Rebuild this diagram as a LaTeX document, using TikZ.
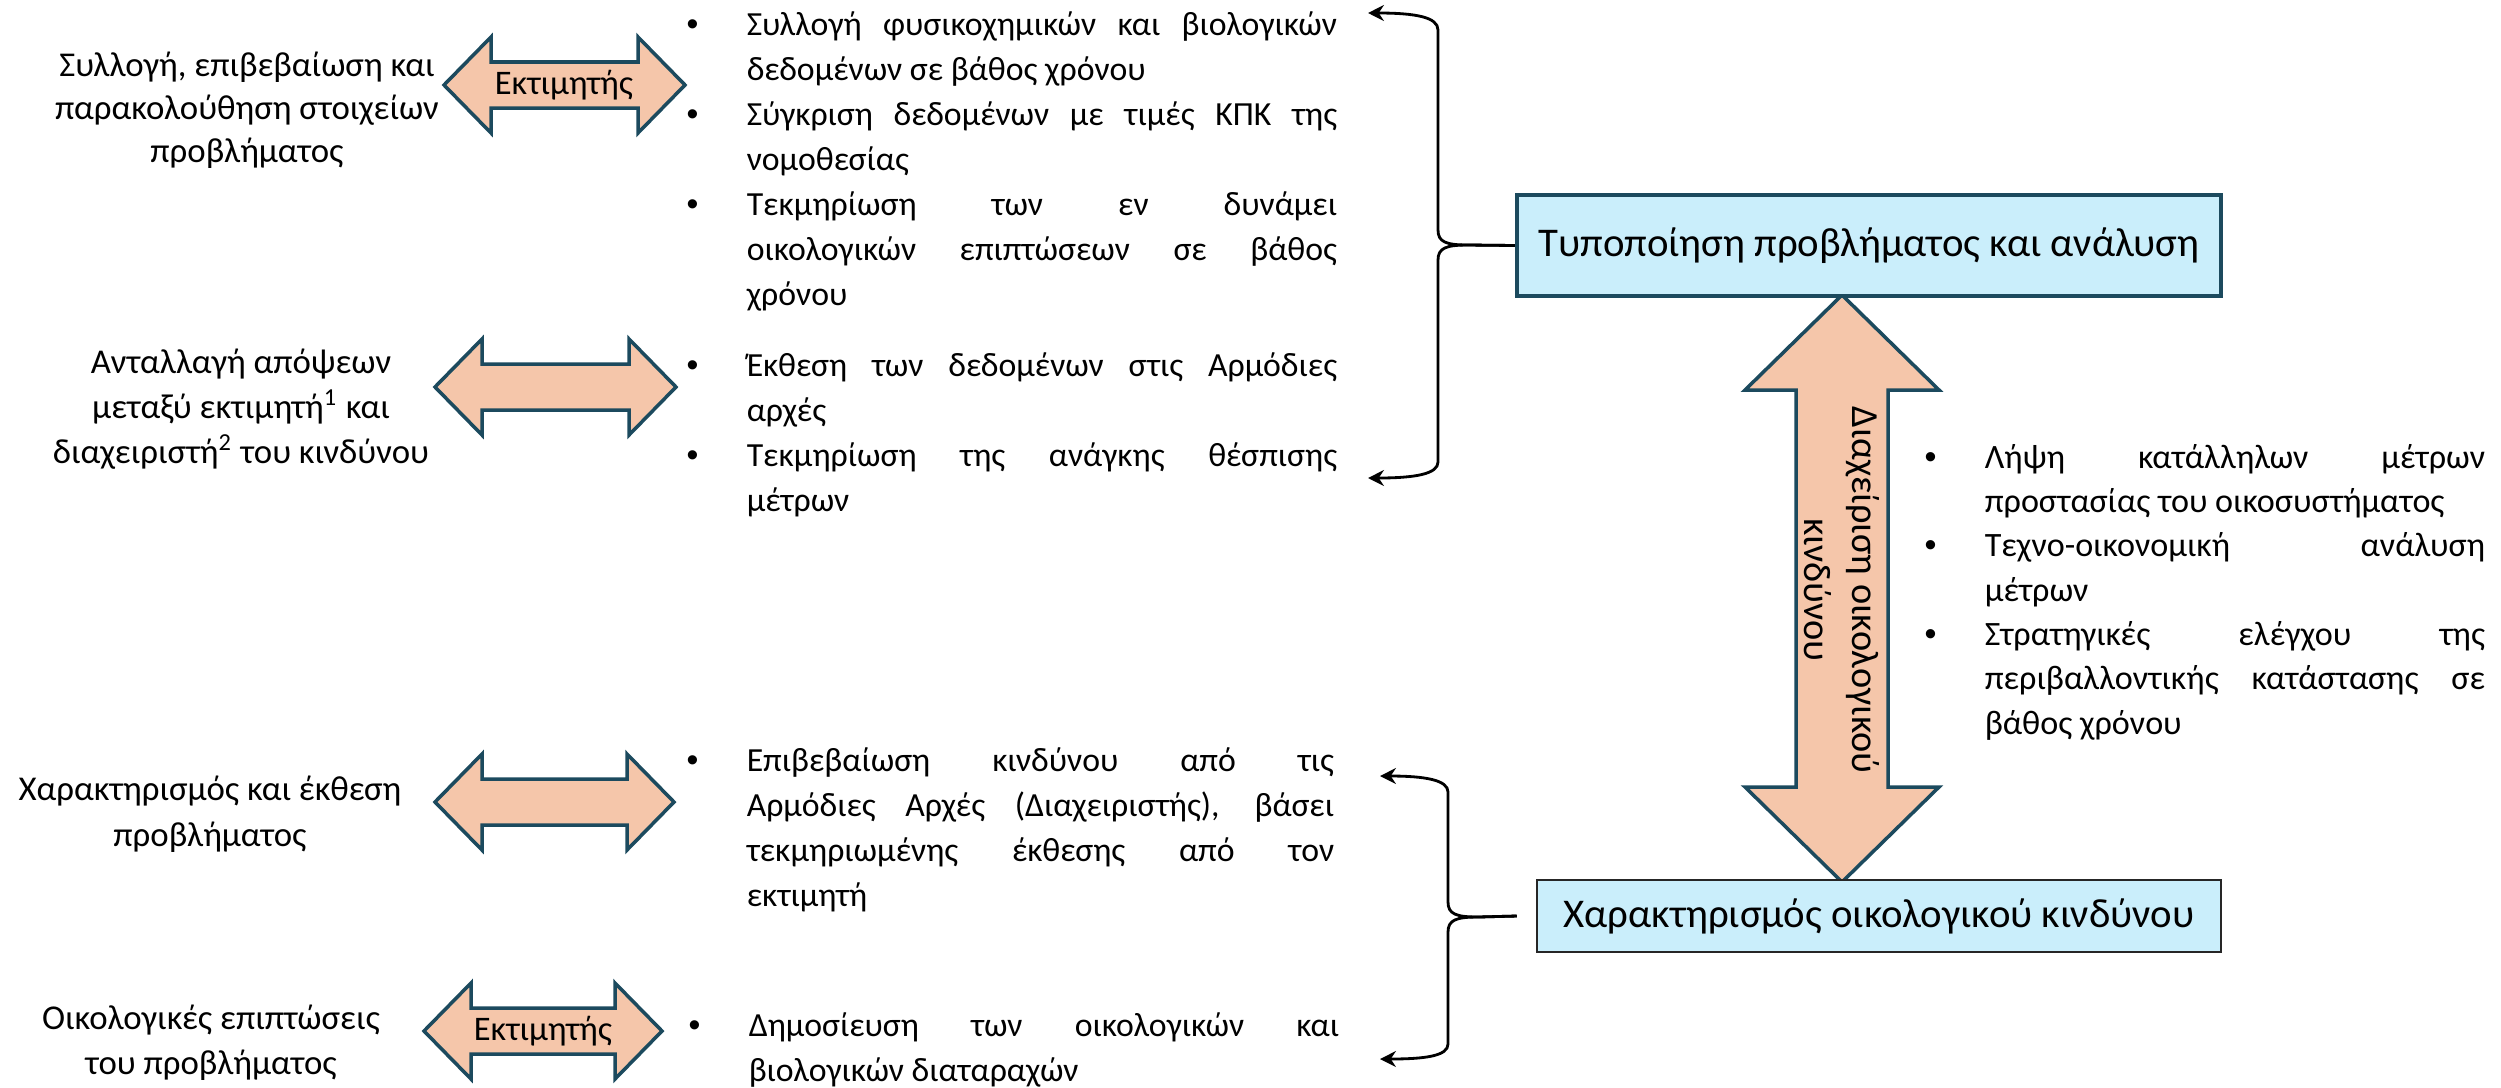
\documentclass[tikz,border=0pt]{standalone}
\usepackage{fontspec}
\setmainfont{Carlito}
\newfontfamily\bulfont{Liberation Sans}
\usetikzlibrary{arrows.meta}

\definecolor{arrfill}{HTML}{F5C6AA}
\definecolor{arrline}{HTML}{1C4A5E}
\definecolor{boxfill}{HTML}{CAEEFB}
\definecolor{boxline}{HTML}{262626}

\hyphenpenalty=10000
\exhyphenpenalty=10000

% bullet list used inside the nodes
\newenvironment{blist}
  {\begin{list}{\bulfont\textbullet}{\setlength\leftmargin{0.6cm}%
      \setlength\labelsep{0pt}\setlength\labelwidth{0.6cm}%
      \setlength\itemsep{0pt}\setlength\parsep{0pt}%
      \setlength\topsep{0pt}\setlength\partopsep{0pt}%
      \renewcommand\makelabel[1]{##1\hfil}}}
  {\end{list}}

% horizontal block arrow: left x, right x, centre y
\newcommand{\hblock}[3]{%
  \draw[barrow] (#1,#3) -- (#1+47,#3-48) -- (#1+47,#3-23)
    -- (#2-47,#3-23) -- (#2-47,#3-48) -- (#2,#3)
    -- (#2-47,#3+48) -- (#2-47,#3+23) -- (#1+47,#3+23)
    -- (#1+47,#3+48) -- cycle;}

\begin{document}
\begin{tikzpicture}
  [x=0.01cm, y=-0.01cm,
   lbl/.style={align=center, font=\fontsize{9.9}{12.2}\selectfont},
   est/.style={font=\fontsize{9.8}{12}\selectfont},
   lst/.style={text width=6.5cm, align=justify, inner sep=0pt,
     anchor=base west, font=\fontsize{9.6}{12.8}\selectfont},
   box/.style={fill=boxfill, inner sep=0pt,
     font=\fontsize{11.6}{13}\selectfont},
   barrow/.style={draw=arrline, fill=arrfill, line width=1pt},
   brc/.style={draw=black, line width=0.8pt,
     -{Stealth[length=4.5pt,width=4.5pt]}}]

  \useasboundingbox (0,0) rectangle (2501,1087);

  % left labels
  \node[lbl] (l1) at (247,110)
    {Συλλογή, επιβεβαίωση και\\παρακολούθηση στοιχείων\\προβλήματος};
  \node[lbl, font=\fontsize{9.9}{12.8}\selectfont] (l2) at (241,409)
    {Ανταλλαγή απόψεων\\μεταξύ εκτιμητή\textsuperscript{1} και\\
     διαχειριστή\textsuperscript{2} του κινδύνου};
  \node[lbl, font=\fontsize{9.9}{13}\selectfont] (l3) at (210,814)
    {Χαρακτηρισμός και έκθεση\\προβλήματος};
  \node[lbl, font=\fontsize{9.9}{12.8}\selectfont] (l4) at (211,1043)
    {Οικολογικές επιπτώσεις\\του προβλήματος};

  % block arrows
  \hblock{444}{685}{85}
  \hblock{435}{676}{387}
  \hblock{435}{674}{802}
  \hblock{424}{662}{1031}
  \node[est] (e1) at (564,85) {Εκτιμητής};
  \node[est] (e4) at (543,1031) {Εκτιμητής};

  % bullet lists
  \node[lst] (b1) at (686,-10) {\begin{blist}
    \item Συλλογή φυσικοχημικών και βιολογικών\linebreak
      δεδομένων σε βάθος χρόνου
    \item Σύγκριση δεδομένων με τιμές ΚΠΚ της\linebreak νομοθεσίας
    \item Τεκμηρίωση των εν δυνάμει\linebreak
      οικολογικών επιπτώσεων σε βάθος\linebreak χρόνου
    \end{blist}};
  \node[lst] (b2) at (686,331) {\begin{blist}
    \item Έκθεση των δεδομένων στις Αρμόδιες\linebreak αρχές
    \item Τεκμηρίωση της ανάγκης θέσπισης\linebreak μέτρων
    \end{blist}};
  \node[lst, text width=6.47cm] (b3) at (686,726) {\begin{blist}
    \item Επιβεβαίωση κινδύνου από τις\linebreak
      Αρμόδιες Αρχές (Διαχειριστής), βάσει\linebreak
      τεκμηριωμένης έκθεσης από τον\linebreak εκτιμητή
    \end{blist}};
  \node[lst] (b4) at (688,991) {\begin{blist}
    \item Δημοσίευση των οικολογικών και\linebreak
      βιολογικών διαταραχών
    \end{blist}};
  \node[lst, text width=5.6cm, font=\fontsize{9.7}{12.6}\selectfont]
    (b5) at (1924,424) {\begin{blist}
    \item Λήψη κατάλληλων μέτρων\linebreak
      προστασίας του οικοσυστήματος
    \item Τεχνο-οικονομική ανάλυση\linebreak μέτρων
    \item Στρατηγικές ελέγχου της\linebreak
      περιβαλλοντικής κατάστασης σε\linebreak βάθος χρόνου
    \end{blist}};

  % vertical arrow
  \draw[barrow] (1842,295) -- (1939,390) -- (1888,390) -- (1888,787)
    -- (1939,787) -- (1842,882) -- (1745,787) -- (1796,787)
    -- (1796,390) -- (1745,390) -- cycle;
  \node[rotate=-90, align=center, font=\fontsize{10.9}{13.5}\selectfont]
    (mg) at (1842,590) {Διαχείριση οικολογικού\\κινδύνου};

  % boxes
  \node[box, draw=arrline, line width=1.1pt, minimum width=7.04cm,
    minimum height=1.01cm] (typ) at (1869,245.5)
    {Τυποποίηση προβλήματος και ανάλυση};
  \node[box, draw=boxline, line width=0.6pt, minimum width=6.84cm,
    minimum height=0.72cm] (chr) at (1879,916)
    {Χαρακτηρισμός οικολογικού κινδύνου};

  % braces
  \coordinate (u1) at (1368,13);
  \coordinate (u2) at (1368,478);
  \coordinate (u3) at (1380,776);
  \coordinate (u4) at (1380,1059);
  \draw[brc] (typ.west) -- (1468,245) .. controls (1446,245) and (1438,242)
    .. (1438,230) -- (1438,30) .. controls (1438,17) and (1415,13) .. (u1);
  \draw[brc] (typ.west) -- (1468,245) .. controls (1446,245) and (1438,248)
    .. (1438,260) -- (1438,462) .. controls (1438,474) and (1415,478) .. (u2);
  \draw[brc] ([xshift=-0.19cm]chr.west) -- (1478,917) .. controls (1456,917)
    and (1448,914) .. (1448,902) -- (1448,792) .. controls (1448,780)
    and (1425,776) .. (u3);
  \draw[brc] ([xshift=-0.19cm]chr.west) -- (1478,917) .. controls (1456,917)
    and (1448,920) .. (1448,932) -- (1448,1044) .. controls (1448,1056)
    and (1425,1059) .. (u4);
\end{tikzpicture}
\end{document}
